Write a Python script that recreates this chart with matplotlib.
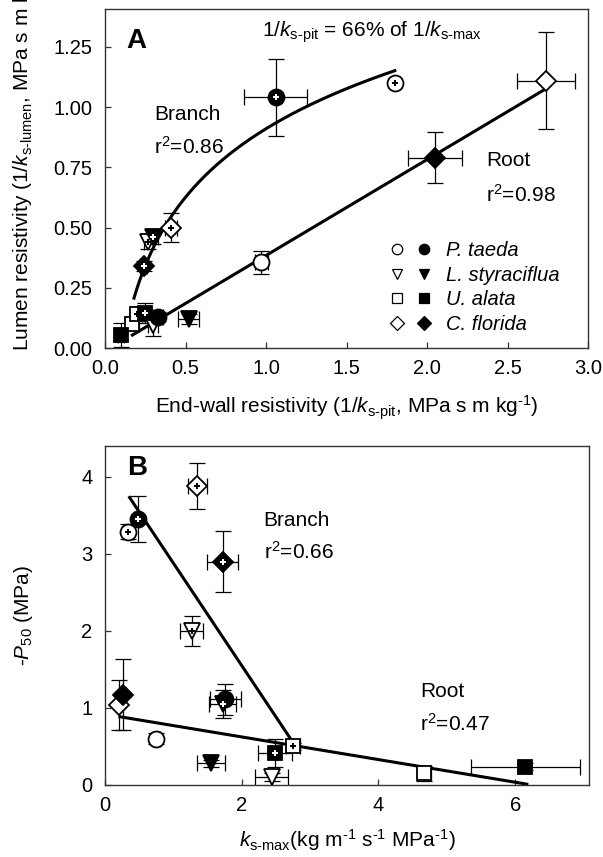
import numpy as np
import matplotlib
matplotlib.use("Agg")
import matplotlib.pyplot as plt
from matplotlib.lines import Line2D
from matplotlib.legend_handler import HandlerTuple

plt.rcParams['font.family'] = ['Liberation Sans', 'DejaVu Sans']
plt.rcParams['mathtext.fontset'] = 'custom'
plt.rcParams['mathtext.rm'] = 'Liberation Sans'
plt.rcParams['mathtext.it'] = 'Liberation Sans:italic'
plt.rcParams['mathtext.bf'] = 'Liberation Sans:bold'
plt.rcParams['mathtext.sf'] = 'Liberation Sans'

# ---------------- data ----------------
species = ['P. taeda', 'L. styraciflua', 'U. alata', 'C. florida']
markers = ['o', 'v', 's', 'D']
msizes = [11.5, 12, 10.5, 10]

# Panel A: end-wall resistivity (x) vs lumen resistivity (y)
A_root_open_x = [0.97, 0.30, 0.17, 2.74]
A_root_open_y = [0.355, 0.095, 0.10, 1.11]
A_root_open_xerr = [0.04, 0.03, 0.04, 0.18]
A_root_open_yerr = [0.048, 0.045, 0.02, 0.20]
A_root_filled_x = [0.33, 0.52, 0.10, 2.05]
A_root_filled_y = [0.13, 0.12, 0.055, 0.79]
A_root_filled_xerr = [0.03, 0.065, 0.02, 0.17]
A_root_filled_yerr = [0.02, 0.02, 0.05, 0.107]

A_branch_open_x = [1.80, 0.27, 0.20, 0.41]
A_branch_open_y = [1.10, 0.44, 0.14, 0.50]
A_branch_open_xerr = [0.0, 0.03, 0.03, 0.04]
A_branch_open_yerr = [0.0, 0.03, 0.03, 0.06]
A_branch_filled_x = [1.06, 0.30, 0.25, 0.24]
A_branch_filled_y = [1.04, 0.46, 0.145, 0.34]
A_branch_filled_xerr = [0.195, 0.03, 0.03, 0.02]
A_branch_filled_yerr = [0.16, 0.03, 0.04, 0.02]

# fits for panel A
A_branch_fit = dict(a=0.91, b=0.41, xmin=0.18, xmax=1.80)   # y = a + b ln x
A_root_fit = dict(a=-0.014, b=0.398, xmin=0.17, xmax=2.74)   # y = a + b x

# Panel B: k_s-max (x) vs -P50 (y)
B_root_open_x = [0.75, 2.44, 4.67, 0.20]
B_root_open_y = [0.60, 0.10, 0.15, 1.04]
B_root_open_xerr = [0.05, 0.24, 0.10, 0.02]
B_root_open_yerr = [0.07, 0.05, 0.10, 0.32]
B_root_filled_x = [1.76, 1.55, 6.15, 0.27]
B_root_filled_y = [1.11, 0.28, 0.24, 1.17]
B_root_filled_xerr = [0.23, 0.21, 0.80, 0.03]
B_root_filled_yerr = [0.20, 0.05, 0.05, 0.46]

B_branch_open_x = [0.34, 1.27, 2.75, 1.35]
B_branch_open_y = [3.29, 2.00, 0.50, 3.88]
B_branch_open_xerr = [0.07, 0.17, 0.10, 0.14]
B_branch_open_yerr = [0.10, 0.19, 0.05, 0.30]
B_branch_filled_x = [0.48, 1.72, 2.49, 1.72]
B_branch_filled_y = [3.45, 1.05, 0.42, 2.90]
B_branch_filled_xerr = [0.05, 0.20, 0.25, 0.23]
B_branch_filled_yerr = [0.30, 0.18, 0.18, 0.40]

B_branch_fit = dict(a=4.21, b=-1.33, xmin=0.36, xmax=2.73)
B_root_fit = dict(a=0.918, b=-0.147, xmin=0.22, xmax=6.17)

# ---------------- figure ----------------
W, H = 603, 857
fig = plt.figure(figsize=(W / 100, H / 100), dpi=100)
axA = fig.add_axes([105 / W, 1 - 348 / H, 483 / W, 339 / H])
axB = fig.add_axes([105 / W, 1 - 785 / H, 484 / W, 339 / H])

spine_col = '#333333'
for ax in (axA, axB):
    for s in ax.spines.values():
        s.set_color(spine_col)
        s.set_linewidth(1.0)
    ax.tick_params(direction='in', length=4.5, width=0.9, color=spine_col,
                   labelsize=14.5, pad=8)
    ax.tick_params(axis='y', pad=9)


def draw_group(ax, xs, ys, xerr, yerr, filled, plus):
    for i in range(len(xs)):
        ax.errorbar(xs[i], ys[i], xerr=xerr[i], yerr=yerr[i], fmt='none',
                    ecolor='black', elinewidth=0.9, capsize=6, capthick=0.9,
                    zorder=2)
        ax.plot(xs[i], ys[i], linestyle='none', marker=markers[i],
                ms=msizes[i], mfc='black' if filled else 'white',
                mec='black', mew=1.3, zorder=3)
        if plus:
            ax.plot(xs[i], ys[i], linestyle='none', marker='P', ms=5,
                    color='white' if filled else 'black', mew=0, zorder=4)


# Panel A
draw_group(axA, A_root_open_x, A_root_open_y, A_root_open_xerr, A_root_open_yerr, False, False)
draw_group(axA, A_root_filled_x, A_root_filled_y, A_root_filled_xerr, A_root_filled_yerr, True, False)
draw_group(axA, A_branch_open_x, A_branch_open_y, A_branch_open_xerr, A_branch_open_yerr, False, True)
draw_group(axA, A_branch_filled_x, A_branch_filled_y, A_branch_filled_xerr, A_branch_filled_yerr, True, True)

xb = np.linspace(A_branch_fit['xmin'], A_branch_fit['xmax'], 200)
axA.plot(xb, A_branch_fit['a'] + A_branch_fit['b'] * np.log(xb), color='black', lw=2.2, zorder=2.5)
xr = np.linspace(A_root_fit['xmin'], A_root_fit['xmax'], 2)
axA.plot(xr, A_root_fit['a'] + A_root_fit['b'] * xr, color='black', lw=2.2, zorder=2.5)

axA.set_xlim(0, 3.0)
axA.set_ylim(0, 1.407)
axA.set_xticks([0, 0.5, 1.0, 1.5, 2.0, 2.5, 3.0])
axA.set_xticklabels(['0.0', '0.5', '1.0', '1.5', '2.0', '2.5', '3.0'])
axA.set_yticks([0, 0.25, 0.5, 0.75, 1.0, 1.25])
axA.set_yticklabels(['0.00', '0.25', '0.50', '0.75', '1.00', '1.25'])

axA.text(0.132, 1.244, 'A', fontsize=20, fontweight='bold', ha='left', va='baseline')
axA.text(0.977, 1.293, r'1/$k_{\text{s-pit}}$ = 66% of 1/$k_{\text{s-max}}$',
         fontsize=15, ha='left', va='baseline')
axA.text(0.306, 0.945, 'Branch', fontsize=15, ha='left', va='baseline')
axA.text(0.306, 0.804, r'r$^2$=0.86', fontsize=15, ha='left', va='baseline')
axA.text(2.366, 0.755, 'Root', fontsize=15, ha='left', va='baseline')
axA.text(2.366, 0.607, r'r$^2$=0.98', fontsize=15, ha='left', va='baseline')

axA.set_xlabel(r'End-wall resistivity (1/$k_{\text{s-pit}}$, MPa s m kg$^{\text{-1}}$)', fontsize=15)
axA.xaxis.set_label_coords(0.5, -0.135)
axA.set_ylabel(r'Lumen resistivity (1/$k_{\text{s-lumen}}$, MPa s m kg$^{\text{-1}}$)', fontsize=15)
axA.yaxis.set_label_coords(-0.145, 0.57)

handles = []
for i in range(4):
    h_open = Line2D([], [], linestyle='none', marker=markers[i], ms=7.5,
                    mfc='white', mec='black', mew=0.9)
    h_fill = Line2D([], [], linestyle='none', marker=markers[i], ms=7.5,
                    mfc='black', mec='black', mew=0.9)
    handles.append((h_open, h_fill))
leg = axA.legend(handles, species, handler_map={tuple: HandlerTuple(ndivide=None, pad=0.7)},
                 loc='upper left', bbox_to_anchor=(0.59, 0.315), frameon=False,
                 prop={'style': 'italic', 'size': 14.5}, handlelength=2.0,
                 handletextpad=0.8, labelspacing=0.28, borderpad=0, borderaxespad=0)

# Panel B
draw_group(axB, B_root_open_x, B_root_open_y, B_root_open_xerr, B_root_open_yerr, False, False)
draw_group(axB, B_root_filled_x, B_root_filled_y, B_root_filled_xerr, B_root_filled_yerr, True, False)
draw_group(axB, B_branch_open_x, B_branch_open_y, B_branch_open_xerr, B_branch_open_yerr, False, True)
draw_group(axB, B_branch_filled_x, B_branch_filled_y, B_branch_filled_xerr, B_branch_filled_yerr, True, True)

for fit in (B_branch_fit, B_root_fit):
    xx = np.linspace(fit['xmin'], fit['xmax'], 2)
    axB.plot(xx, fit['a'] + fit['b'] * xx, color='black', lw=2.2, zorder=2.5)

axB.set_xlim(0, 7.08)
axB.set_ylim(0, 4.4)
axB.set_xticks([0, 2, 4, 6])
axB.set_yticks([0, 1, 2, 3, 4])

axB.text(0.318, 4.02, 'B', fontsize=20, fontweight='bold', ha='left', va='baseline')
axB.text(2.32, 3.36, 'Branch', fontsize=15, ha='left', va='baseline')
axB.text(2.32, 2.93, r'r$^2$=0.66', fontsize=15, ha='left', va='baseline')
axB.text(4.61, 1.137, 'Root', fontsize=15, ha='left', va='baseline')
axB.text(4.61, 0.704, r'r$^2$=0.47', fontsize=15, ha='left', va='baseline')

axB.set_xlabel(r'$k_{\text{s-max}}$(kg m$^{\text{-1}}$ s$^{\text{-1}}$ MPa$^{\text{-1}}$)', fontsize=15)
axB.xaxis.set_label_coords(0.5, -0.125)
axB.set_ylabel(r'-$P_{50}$ (MPa)', fontsize=15)
axB.yaxis.set_label_coords(-0.145, 0.5)

fig.savefig('out.png', dpi=100)
